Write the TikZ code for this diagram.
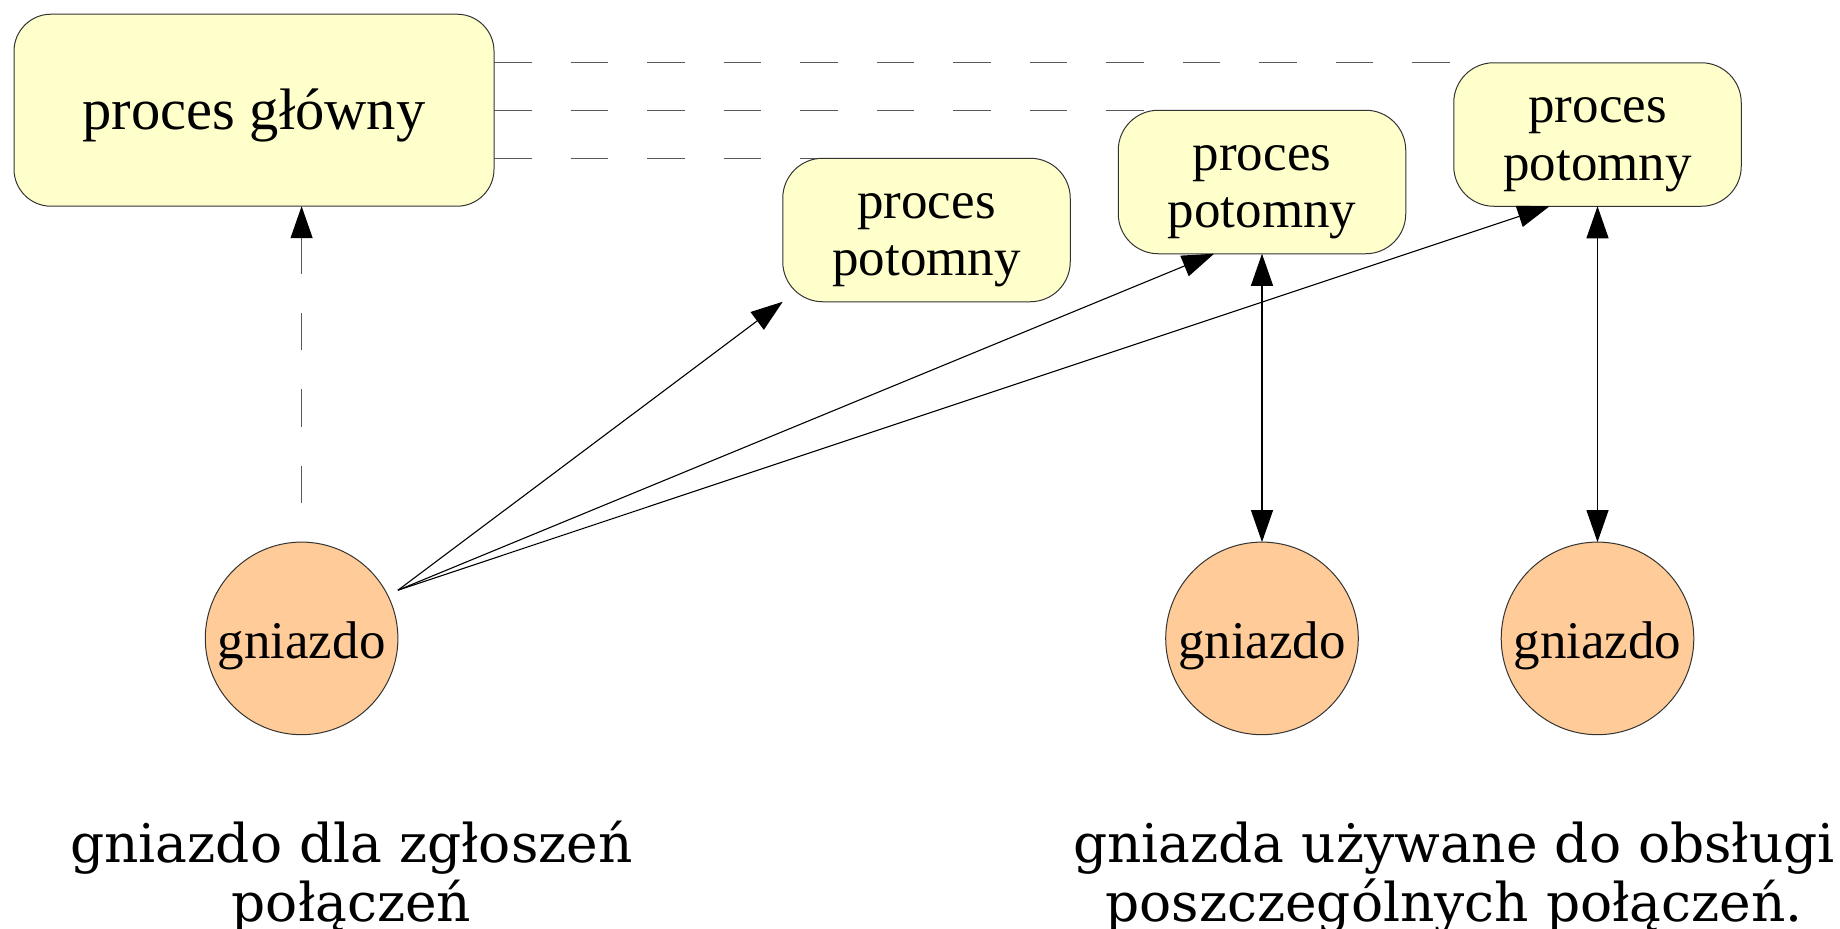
\documentclass[tikz,border=0pt]{standalone}
\usepackage{fontspec}
\setmainfont{Liberation Serif}
\newfontfamily\capfont{DejaVu Serif}
\usetikzlibrary{arrows.meta,calc,backgrounds}

\definecolor{procfill}{RGB}{255,255,204}
\definecolor{sockfill}{RGB}{255,204,153}

\begin{document}
\begin{tikzpicture}[x=1pt,y=-1pt,
  procbox/.style={draw=black!80, line width=1pt, fill=procfill,
    rounded corners=40pt, minimum width=287.5pt, minimum height=143.5pt,
    inner sep=0pt, outer sep=0pt},
  mainbox/.style={procbox, rounded corners=37pt, minimum width=480pt,
    minimum height=192pt},
  sock/.style={circle, draw=black!80, line width=1pt, fill=sockfill,
    minimum size=192.6pt, inner sep=0pt, outer sep=0pt},
  proctext/.style={align=center, inner sep=0pt,
    font=\fontsize{53}{57.5}\selectfont},
  maintext/.style={inner sep=0pt, font=\fontsize{58.5}{64}\selectfont},
  socktext/.style={inner sep=0pt, font=\fontsize{53}{57}\selectfont},
  link/.style={draw=black, line width=1.1pt},
  tip/.style={-{Triangle[length=32pt,width=22pt,black]}},
  tips/.style={{Triangle[length=32pt,width=22pt,black]}-{Triangle[length=32pt,width=22pt,black]}},
  tie/.style={draw=black!65, line width=1.1pt, dash pattern=on 37.5pt off 39pt},
  caption/.style={align=center, inner sep=0pt, anchor=base,
    font=\capfont\fontsize{53.4}{59}\selectfont}
]
\useasboundingbox (0,0) rectangle (1840,929);

% processes
\node[mainbox] (main) at (254,110.2) {};
\node[procbox] (b1) at (926.5,230) {};
\node[procbox] (b2) at (1262,182) {};
\node[procbox] (b3) at (1597.5,134.5) {};
\node[maintext] (mainlbl) at ([yshift=-5pt]main.center) {proces główny};
\node[proctext] (t1) at ([yshift=-10pt]b1.center) {proces\\potomny};
\node[proctext] (t2) at ([yshift=-10pt]b2.center) {proces\\potomny};
\node[proctext] (t3) at ([yshift=-10pt]b3.center) {proces\\potomny};

% sockets
\node[sock] (s1) at (301.6,638.4) {};
\node[sock] (s2) at (1262,638.4) {};
\node[sock] (s3) at (1597.5,638.4) {};
\node[socktext] (g1) at ([yshift=-7pt]s1.center) {gniazdo};
\node[socktext] (g2) at ([yshift=-7pt]s2.center) {gniazdo};
\node[socktext] (g3) at ([yshift=-7pt]s3.center) {gniazdo};

% parent-child ties, behind the boxes
\begin{pgfonlayer}{background}
  \draw[tie] (b1.north -| main.east) -- ($(b1.north west)+(45,0)$);
  \draw[tie] (b2.north -| main.east) -- ($(b2.north west)+(40,0)$);
  \draw[tie] (b3.north -| main.east) -- (b3.north west);
\end{pgfonlayer}

% listening socket belongs to the main process
\draw[tie, tip, dash phase=37.5pt] (s1.north) -- (s1.north |- main.south);

% accepted connections handed to children
\coordinate (src) at ([yshift=48.2pt]s1.east);
\draw[link, tip] (src) -- (b1.south west);
\draw[link, tip] (src) -- ($(b2.south west)!1/3!(b2.south east)$);
\draw[link, tip] (src) -- ($(b3.south west)!1/3!(b3.south east)$);

% per-connection sockets
\draw[link, tips] (b2.south) -- (s2.north);
\draw[link, tips] (b3.south) -- (s3.north);

% captions
\node[caption] (c1) at (351.5,921.7) {gniazdo dla zgłoszeń\\połączeń};
\node[caption] (c2) at (1454,921.7) {gniazda używane do obsługi\\poszczególnych połączeń.};
\end{tikzpicture}
\end{document}
